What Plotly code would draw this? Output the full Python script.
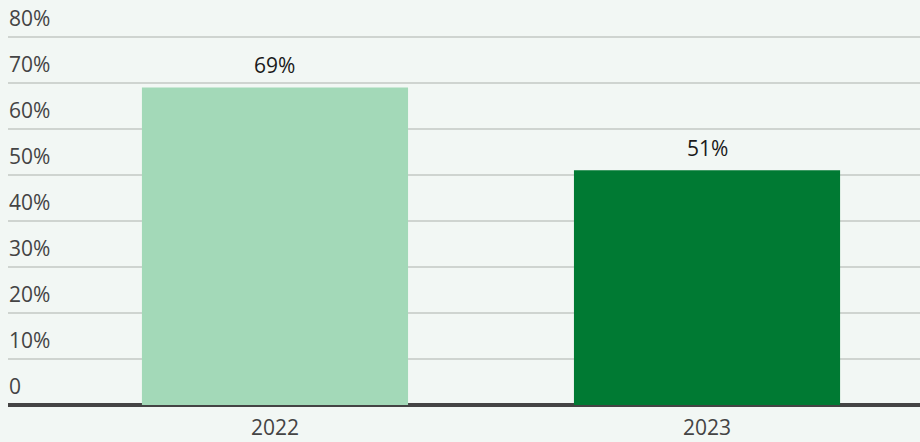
import plotly.graph_objects as go

years = ["2022", "2023"]
shares = [69, 51]
bar_colors = ["#a3d9b8", "#007a33"]
grid_values = [0, 10, 20, 30, 40, 50, 60, 70, 80]
grid_labels = ["0", "10%", "20%", "30%", "40%", "50%", "60%", "70%", "80%"]

bg = "#f2f7f4"
font_family = "Open Sans, Noto Sans, sans-serif"
y_top = 80.4

fig = go.Figure()
fig.add_trace(go.Bar(
    x=list(range(len(years))),
    y=shares,
    width=0.616,
    marker=dict(color=bar_colors, line=dict(width=0)),
    hoverinfo="skip",
))

annotations = []
# value labels above each bar
for i, v in enumerate(shares):
    annotations.append(dict(
        x=i, xref="x", y=v, yref="y",
        text=f"{v}%", showarrow=False,
        xanchor="center", yanchor="bottom", yshift=6,
        font=dict(size=21, color="#1a1a1a", family=font_family),
    ))
# axis labels sitting above their gridlines
for v, lab in zip(grid_values, grid_labels):
    annotations.append(dict(
        x=0, xref="paper", y=v, yref="y",
        text=lab, showarrow=False,
        xanchor="left", yanchor="bottom", yshift=3, xshift=-1,
        font=dict(size=21, color="#444444", family=font_family),
    ))

fig.update_layout(
    width=920, height=442,
    margin=dict(l=8, r=0, t=35, b=37),
    paper_bgcolor=bg, plot_bgcolor=bg,
    showlegend=False,
    annotations=annotations,
    xaxis=dict(
        range=[-0.618, 1.493],
        tickvals=[0, 1], ticktext=years,
        showgrid=False, zeroline=False, showline=False,
        ticks="", ticklabelstandoff=8,
        tickfont=dict(size=21, color="#444444", family=font_family),
    ),
    yaxis=dict(
        range=[0, y_top],
        tickvals=grid_values, showticklabels=False,
        showgrid=True, gridcolor="#cfd4d0", gridwidth=2,
        zeroline=True, zerolinecolor="#444444", zerolinewidth=4,
        showline=False, ticks="",
    ),
)

fig.write_html("out.html")
